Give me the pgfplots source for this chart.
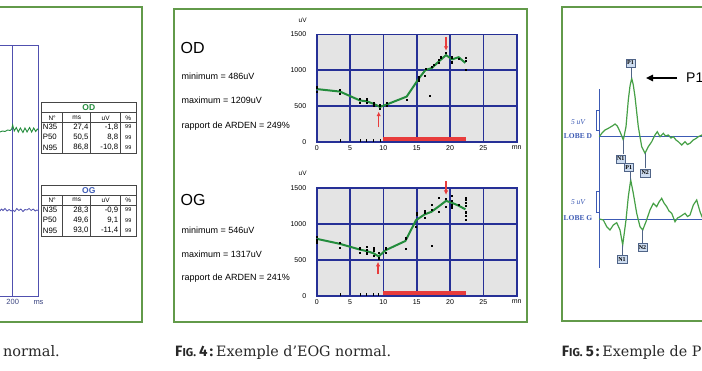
\documentclass[border=0pt]{standalone}
\usepackage{fontspec}
\setmainfont{Liberation Sans}
\newfontfamily\capserif{DejaVu Serif}
\newfontfamily\capsans{Fira Sans}
\newfontfamily\lserif{Liberation Serif}
\usepackage{pgfplots}
\pgfplotsset{compat=1.18}
\usetikzlibrary{arrows.meta}
\definecolor{framegreen}{RGB}{98,154,74}
\definecolor{gridblue}{RGB}{38,48,150}
\definecolor{linegreen}{RGB}{35,140,60}
\definecolor{bggray}{RGB}{228,228,228}
\definecolor{redc}{RGB}{232,60,60}
\definecolor{vgreen}{RGB}{70,160,70}
\definecolor{vblue}{RGB}{60,90,180}
\definecolor{lblue}{RGB}{80,80,175}
\definecolor{boxfill}{RGB}{205,220,240}
\definecolor{boxborder}{RGB}{80,100,135}
\definecolor{tgray}{RGB}{70,70,70}
\definecolor{capgray}{RGB}{40,40,40}
\pgfplotsset{
  eogaxis/.style={
    anchor=south west, scale only axis, width=200pt,
    xmin=0, xmax=30, ymin=0, ymax=1500,
    xtick={0,5,10,15,20,25,30}, xticklabels={0,5,10,15,20,25,mn},
    ytick={0,500,1000,1500}, yticklabels={0,500,1000,1500},
    grid=major, major grid style={gridblue, line width=1.6pt},
    axis line style={gridblue, line width=1.6pt},
    axis background/.style={fill=bggray},
    major tick length=0pt,
    tick label style={font=\fontsize{7}{8}\selectfont},
    yticklabel style={xshift=-7pt},
    /pgf/number format/assume math mode=true,
    clip=false,
  },
}
\tikzset{ptbox/.style={draw=boxborder, fill=boxfill, font=\lserif\bfseries\fontsize{6}{6}\selectfont, inner sep=0.8pt, minimum width=9.5pt, minimum height=8pt}}
\newcommand{\figlab}[1]{{\capsans\bfseries\fontsize{15}{16}\selectfont F\fontsize{11.5}{13}\selectfont IG.\hspace{3pt}\fontsize{15}{16}\selectfont #1\hspace{2pt}:}\hspace{3pt}}
\begin{document}
\begin{tikzpicture}[x=1pt,y=1pt]
\path[use as bounding box] (0,0) rectangle (702,-370);
\clip (0,0) rectangle (702,-370);
\fill[white] (0,0) rectangle (702,-370);

% ---------------- frames
\draw[framegreen,line width=2pt] (-10,-7.3) rectangle (141.7,-321.7);
\draw[framegreen,line width=2pt] (174,-9.3) rectangle (527,-321.7);
\draw[framegreen,line width=2pt] (561.7,-7.3) rectangle (720,-320.7);

% ---------------- left figure (partial)
\begin{axis}[at={(-12.9pt,-296pt)}, anchor=south west, scale only axis,
  width=51.2pt, height=251pt, xmin=150, xmax=250, ymin=-296, ymax=-45,
  xtick={200}, ytick=\empty, xmajorgrids,
  major grid style={lblue, line width=1pt},
  axis line style={lblue, line width=1pt}, major tick length=0pt,
  tick label style={font=\fontsize{7.5}{8}\selectfont, text={rgb,255:red,60;green,70;blue,130}},
  /pgf/number format/assume math mode=true]
\addplot[linegreen, line width=0.9pt] coordinates {(150,-131)(165,-132)(175,-132)(180,-131)(185,-131.5)(190,-130)(195,-130.5)(198,-129)(200,-125)(203,-131)(207,-127.5)(211,-132)(215,-128)(220,-132.5)(224,-128)(228,-132)(233,-127.5)(237,-132)(241,-128)(245,-131.5)(248,-129)(250,-130)};
\addplot[lblue, line width=0.8pt] coordinates {(150,-211)(175,-211)(178,-209)(181,-210.5)(185,-208.5)(189,-211)(193,-209.5)(197,-211)(200,-210)(204,-211.5)(208,-208.5)(212,-210.5)(216,-209)(220,-211.5)(224,-209.5)(228,-210)(232,-208.5)(236,-210.5)(240,-209)(244,-211)(247,-210)(250,-210.5)};
\end{axis}
\node[font=\fontsize{7.5}{8}\selectfont, text={rgb,255:red,60;green,70;blue,130}] at (38.5,-303) {ms};

% tables
\begin{scope}[tgray, line width=0.7pt, font=\fontsize{7.8}{8}\selectfont]
  % OD
  \draw (41.7,-102.7) rectangle (136,-153.3);
  \draw (41.7,-112.7) -- (136,-112.7) (41.7,-122.7) -- (136,-122.7);
  \foreach \xx in {62.7,90.7,120.7} \draw (\xx,-112.7) -- (\xx,-153.3);
  \node[text=linegreen, font=\bfseries\fontsize{8.5}{9}\selectfont] at (88.85,-107.9) {OD};
  \node[text=black, font=\fontsize{6.5}{7}\selectfont] at (52.2,-117.9) {N°};
  \node[text=black, font=\fontsize{6.5}{7}\selectfont] at (76.7,-117.9) {ms};
  \node[text=black, font=\fontsize{6.5}{7}\selectfont] at (105.7,-117.9) {uV};
  \node[text=black, font=\fontsize{6.5}{7}\selectfont] at (128.3,-117.9) {\%};
  \foreach \yy/\a/\b/\c in {-126.9/N35/{27,4}/{-1,8}, -137.3/P50/{50,5}/{8,8}, -147.7/N95/{86,8}/{-10,8}}{
    \node[anchor=west, inner sep=0, text=black] at (42.6,\yy) {\a};
    \node[anchor=east, inner sep=0, text=black] at (88.8,\yy) {\b};
    \node[anchor=east, inner sep=0, text=black] at (118.6,\yy) {\c};
    \node[text=black, font=\fontsize{5.5}{6}\selectfont] at (128.3,\yy) {99};
  }
  % OG
  \draw (41.7,-185) rectangle (136,-236.7);
  \draw (41.7,-195) -- (136,-195) (41.7,-205) -- (136,-205);
  \foreach \xx in {62.7,90.7,120.7} \draw (\xx,-195) -- (\xx,-236.7);
  \node[text=vblue, font=\bfseries\fontsize{8.5}{9}\selectfont] at (88.85,-190.2) {OG};
  \node[text=black, font=\fontsize{6.5}{7}\selectfont] at (52.2,-200.2) {N°};
  \node[text=black, font=\fontsize{6.5}{7}\selectfont] at (76.7,-200.2) {ms};
  \node[text=black, font=\fontsize{6.5}{7}\selectfont] at (105.7,-200.2) {uV};
  \node[text=black, font=\fontsize{6.5}{7}\selectfont] at (128.3,-200.2) {\%};
  \foreach \yy/\a/\b/\c in {-209.8/N35/{28,3}/{-0,9}, -220.2/P50/{49,6}/{9,1}, -230.6/N95/{93,0}/{-11,4}}{
    \node[anchor=west, inner sep=0, text=black] at (42.6,\yy) {\a};
    \node[anchor=east, inner sep=0, text=black] at (88.8,\yy) {\b};
    \node[anchor=east, inner sep=0, text=black] at (118.6,\yy) {\c};
    \node[text=black, font=\fontsize{5.5}{6}\selectfont] at (128.3,\yy) {99};
  }
\end{scope}
\node[anchor=base east, inner sep=0, text=capgray, font=\capserif\fontsize{14.5}{16}\selectfont] at (60,-356) {Exemple de PERG normal.};

% ---------------- middle figure: EOG
\node[anchor=west, inner sep=0, font=\fontsize{16}{18}\selectfont] at (180.5,-47.5) {OD};
\node[anchor=west, inner sep=0, font=\fontsize{9}{10}\selectfont] at (181.5,-76.7) {minimum = 486uV};
\node[anchor=west, inner sep=0, font=\fontsize{9}{10}\selectfont] at (181.5,-100.3) {maximum = 1209uV};
\node[anchor=west, inner sep=0, font=\fontsize{9}{10}\selectfont] at (181.5,-126) {rapport de ARDEN = 249\%};
\node[anchor=west, inner sep=0, font=\fontsize{16}{18}\selectfont] at (180.5,-200) {OG};
\node[anchor=west, inner sep=0, font=\fontsize{9}{10}\selectfont] at (181.5,-230) {minimum = 546uV};
\node[anchor=west, inner sep=0, font=\fontsize{9}{10}\selectfont] at (181.5,-254) {maximum = 1317uV};
\node[anchor=west, inner sep=0, font=\fontsize{9}{10}\selectfont] at (181.5,-278.3) {rapport de ARDEN = 241\%};
\node[font=\fontsize{6.5}{7}\selectfont] at (302.7,-20.7) {uV};
\node[font=\fontsize{6.5}{7}\selectfont] at (302.7,-173.3) {uV};

\begin{axis}[eogaxis, at={(316.7pt,-141.7pt)}, height=107.4pt]
\addplot[redc, line width=3.5pt] coordinates {(10,35)(22.4,35)};
\addplot[only marks, mark=|, mark size=1.5pt, black, mark options={line width=0.6pt}] coordinates {(3.5,10)(6.5,10)(7.5,10)(8.5,10)(9.5,10)};
\addplot[linegreen, line width=2pt] coordinates {(0,735)(3.5,700)(6.5,575)(7.5,565)(8.5,530)(9.5,486)(10.5,520)(13.5,630)(15.3,880)(16.3,1000)(17.3,1030)(18.3,1120)(19.4,1209)(20.3,1150)(21.3,1180)(22.3,1100)};
\addplot[only marks, mark=square*, mark size=0.6pt, black] coordinates {(0,700)(0,760)(3.5,670)(3.5,730)(6.5,545)(6.5,600)(7.5,540)(7.5,595)(8.5,510)(8.5,550)(9.5,460)(9.5,510)(10.5,500)(10.5,545)(13.5,590)(15.3,860)(15.3,900)(16.2,920)(16.3,1020)(17.0,640)(17.3,1050)(17.5,1080)(18.3,1100)(18.3,1150)(18.6,1180)(19.4,1240)(20.3,1110)(20.3,1180)(21.3,1160)(22.3,1010)(22.3,1130)(22.3,1170)};
\draw[redc, line width=1.5pt, -{Latex[length=4.5pt,width=4.5pt]}] (axis cs:9.3,200) -- (axis cs:9.3,420);
\draw[redc, line width=1.5pt, -{Latex[length=4.5pt,width=4.5pt]}] (axis cs:19.4,1460) -- (axis cs:19.4,1270);
\end{axis}

\begin{axis}[eogaxis, at={(316.7pt,-295.7pt)}, height=108pt]
\addplot[redc, line width=3.5pt] coordinates {(10,38)(22.4,38)};
\addplot[only marks, mark=|, mark size=1.5pt, black, mark options={line width=0.6pt}] coordinates {(3.5,10)(6.5,10)(7.5,10)(8.5,10)(9.3,10)};
\addplot[linegreen, line width=2pt] coordinates {(0,790)(3.5,720)(6.5,640)(7.5,620)(8.5,590)(9.3,546)(10.3,630)(13.3,760)(14.9,1050)(16.2,1130)(17.2,1165)(18.3,1240)(19.4,1317)(20.3,1290)(21.3,1250)(22.3,1200)};
\addplot[only marks, mark=square*, mark size=0.6pt, black] coordinates {(0,740)(0,770)(0,820)(3.5,670)(3.5,740)(6.5,600)(6.5,660)(7.5,590)(7.5,640)(7.5,680)(8.5,560)(8.5,620)(8.5,660)(9.3,520)(9.3,600)(10.3,600)(10.3,660)(13.3,650)(13.3,800)(14.9,960)(15,1120)(15,1150)(16.2,1080)(16.2,1150)(16.2,1180)(17.2,700)(17.2,1200)(17.2,1260)(18.3,1170)(18.3,1360)(19.4,1240)(19.4,1350)(20.3,1230)(20.3,1260)(20.3,1320)(20.3,1390)(21.3,1260)(22.3,1060)(22.3,1110)(22.3,1160)(22.3,1250)(22.3,1290)(22.3,1330)(22.3,1360)};
\draw[redc, line width=1.5pt, -{Latex[length=4.5pt,width=4.5pt]}] (axis cs:9.2,300) -- (axis cs:9.2,470);
\draw[redc, line width=1.5pt, -{Latex[length=4.5pt,width=4.5pt]}] (axis cs:19.4,1590) -- (axis cs:19.4,1400);
\end{axis}

\node[anchor=base west, inner sep=0, text=capgray] at (175,-356) {\figlab{4}{\capserif\fontsize{14.3}{16}\selectfont Exemple d’EOG normal.}};

% ---------------- right figure: VEP (partial)
\begin{axis}[at={(590pt,-280pt)}, anchor=south west, scale only axis, width=120pt, height=230pt,
  xmin=590, xmax=710, ymin=-280, ymax=-50, hide axis, clip=false]
\addplot[vblue, line width=1pt] coordinates {(599.3,-89)(599.3,-268)};
\addplot[vblue, line width=1pt] coordinates {(599.3,-136.7)(710,-136.7)};
\addplot[vblue, line width=1pt] coordinates {(599.3,-219)(710,-219)};
\addplot[vgreen, line width=1.2pt] coordinates {(599.3,-136.7)(602,-133)(605,-130)(608,-128.5)(610,-127.3)(613,-125.5)(615,-124)(617.3,-126)(620,-131.7)(623.3,-140)(626,-126.7)(628.3,-100)(630,-86)(631.7,-78.3)(633.3,-85)(635,-96.7)(638.3,-126.7)(641.7,-146.7)(645,-153.3)(648.3,-146.7)(651.7,-141.7)(655,-135)(657.3,-131.7)(660,-136.7)(663.3,-133.3)(665.5,-136)(668.3,-135)(671,-138)(673.3,-136.7)(676,-140)(678.3,-141.7)(681.7,-145)(685,-141.7)(687.5,-144.5)(690,-143.3)(693.3,-140)(696,-138.5)(698.3,-136.7)(702,-135)(705,-136)};
\addplot[vgreen, line width=1.2pt] coordinates {(599.3,-219)(603.3,-220)(606.7,-226.7)(610,-230)(613.3,-225)(616.7,-222.7)(620,-230)(622.7,-245)(626,-220)(628.3,-196.7)(630.7,-180)(633.3,-193.3)(636.7,-213.3)(640,-226.7)(642.7,-230)(646,-221.7)(650,-210)(653.3,-203.3)(656.7,-206.7)(659,-202)(661.7,-198.3)(664,-203)(666.7,-206.7)(669,-211)(671.7,-213.3)(675,-221.7)(677.5,-218)(680,-216.7)(682.5,-215)(685,-213.3)(687.5,-216.5)(690,-215)(693.3,-205)(696.7,-200)(700,-211.7)(702,-216.7)(705,-214)};
\draw[boxborder, line width=0.6pt] (axis cs:631.7,-67) -- (axis cs:631.7,-78);
\draw[boxborder, line width=0.6pt] (axis cs:623.3,-154) -- (axis cs:623.3,-140);
\draw[boxborder, line width=0.6pt] (axis cs:645,-168.3) -- (axis cs:645,-153.3);
\draw[boxborder, line width=0.6pt] (axis cs:630.7,-163.5) -- (axis cs:630.7,-180);
\draw[boxborder, line width=0.6pt] (axis cs:622.7,-255) -- (axis cs:622.7,-245);
\draw[boxborder, line width=0.6pt] (axis cs:642.7,-243.3) -- (axis cs:642.7,-230);
\node[ptbox] at (axis cs:630.5,-63) {P1};
\node[ptbox] at (axis cs:620.8,-158.7) {N1};
\node[ptbox] at (axis cs:645.3,-172.8) {N2};
\node[ptbox] at (axis cs:628.7,-167.5) {P1};
\node[ptbox] at (axis cs:622,-259.2) {N1};
\node[ptbox] at (axis cs:642.5,-247.5) {N2};
\end{axis}
\draw[vblue, line width=0.9pt] (599.3,-110)--(596,-110)--(596,-130)--(599.3,-130);
\draw[vblue, line width=0.9pt] (599.3,-191.7)--(596,-191.7)--(596,-212)--(599.3,-212);
\node[text=vblue, font=\lserif\itshape\fontsize{7.5}{8}\selectfont] at (578,-122.3) {5 uV};
\node[text=vblue, font=\lserif\bfseries\fontsize{7.5}{8}\selectfont] at (578,-136) {LOBE D};
\node[text=vblue, font=\lserif\itshape\fontsize{7.5}{8}\selectfont] at (578,-201.7) {5 uV};
\node[text=vblue, font=\lserif\bfseries\fontsize{7.5}{8}\selectfont] at (578,-218) {LOBE G};
\draw[black, line width=1.5pt, -{Triangle[length=7pt,width=6.5pt]}] (677,-78) -- (646,-78);
\node[anchor=west, inner sep=0, font=\fontsize{14}{16}\selectfont] at (686,-78) {P100};
\node[anchor=base west, inner sep=0, text=capgray] at (561.7,-356) {\figlab{5}{\capserif\fontsize{14.3}{16}\selectfont Exemple de PEV flash.}};
\end{tikzpicture}
\end{document}
